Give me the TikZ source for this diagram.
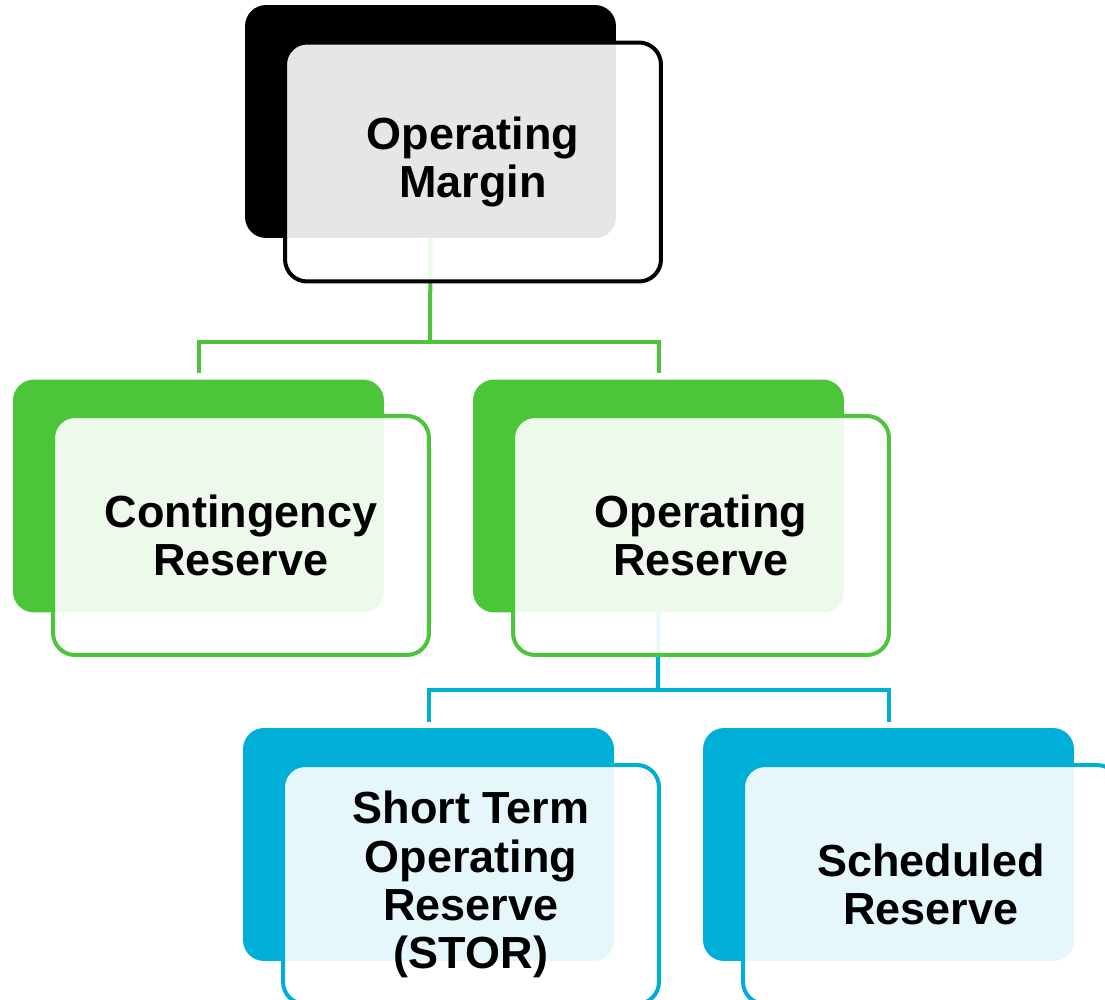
\documentclass[tikz,border=0pt]{standalone}
\usepackage{fontspec}
\setmainfont{Liberation Sans}
\usepackage{tikz}
\usetikzlibrary{positioning}

\definecolor{resgreen}{RGB}{76,197,59}
\definecolor{resblue}{RGB}{0,175,216}

\tikzset{
	backbox/.style={rectangle, rounded corners=0.42cm, minimum width=7.42cm, minimum height=4.66cm, inner sep=0pt, draw=none, fill=#1},
	frontbox/.style={rectangle, rounded corners=0.44cm, minimum width=7.52cm, minimum height=4.78cm, inner sep=0pt, draw=#1, line width=0.08cm,
		fill=white, fill opacity=0.9, text opacity=1, align=center, font=\fontsize{25.6}{27.4}\selectfont\bfseries},
	link/.style={draw=#1, line width=0.08cm}
}

\begin{document}
\begin{tikzpicture}[x=0.02cm, y=-0.02cm]
			
			\useasboundingbox (0,0) rectangle (1105,1000);
			
			% back boxes
			\node[backbox=black] (omback) at (430.5,121.5) {};
			\node[backbox=resgreen] (crback) at (198.5,496) {};
			\node[backbox=resgreen] (orback) at (658.5,496) {};
			\node[backbox=resblue] (storback) at (428.5,844.5) {};
			\node[backbox=resblue] (srback) at (888.5,844.5) {};
			
			% connectors
			\coordinate (gbus) at (430,342);
			\coordinate (bbus) at (658,690);
			\draw[link=resgreen] (omback.south) -- (gbus);
			\draw[link=resgreen, shorten >=0.12cm] (gbus) -| (crback.north);
			\draw[link=resgreen, shorten >=0.12cm] (gbus) -| (orback.north);
			\draw[link=resblue] (orback.south) -- (bbus);
			\draw[link=resblue, shorten >=0.12cm] (bbus) -| (storback.north);
			\draw[link=resblue, shorten >=0.12cm] (bbus) -| (srback.north);
			
			% front boxes
			\node[frontbox=black] (om) at (473,162) {Operating\\Margin};
			\node[frontbox=resgreen] (cr) at (241,535.5) {Contingency\\Reserve};
			\node[frontbox=resgreen] (or) at (701,535.5) {Operating\\Reserve};
			\node[frontbox=resblue] (stor) at (471,884.5) {Short Term\\Operating\\Reserve\\(STOR)};
			\node[frontbox=resblue] (sr) at (931,884.5) {Scheduled\\Reserve};
			
	\end{tikzpicture}
\end{document}
